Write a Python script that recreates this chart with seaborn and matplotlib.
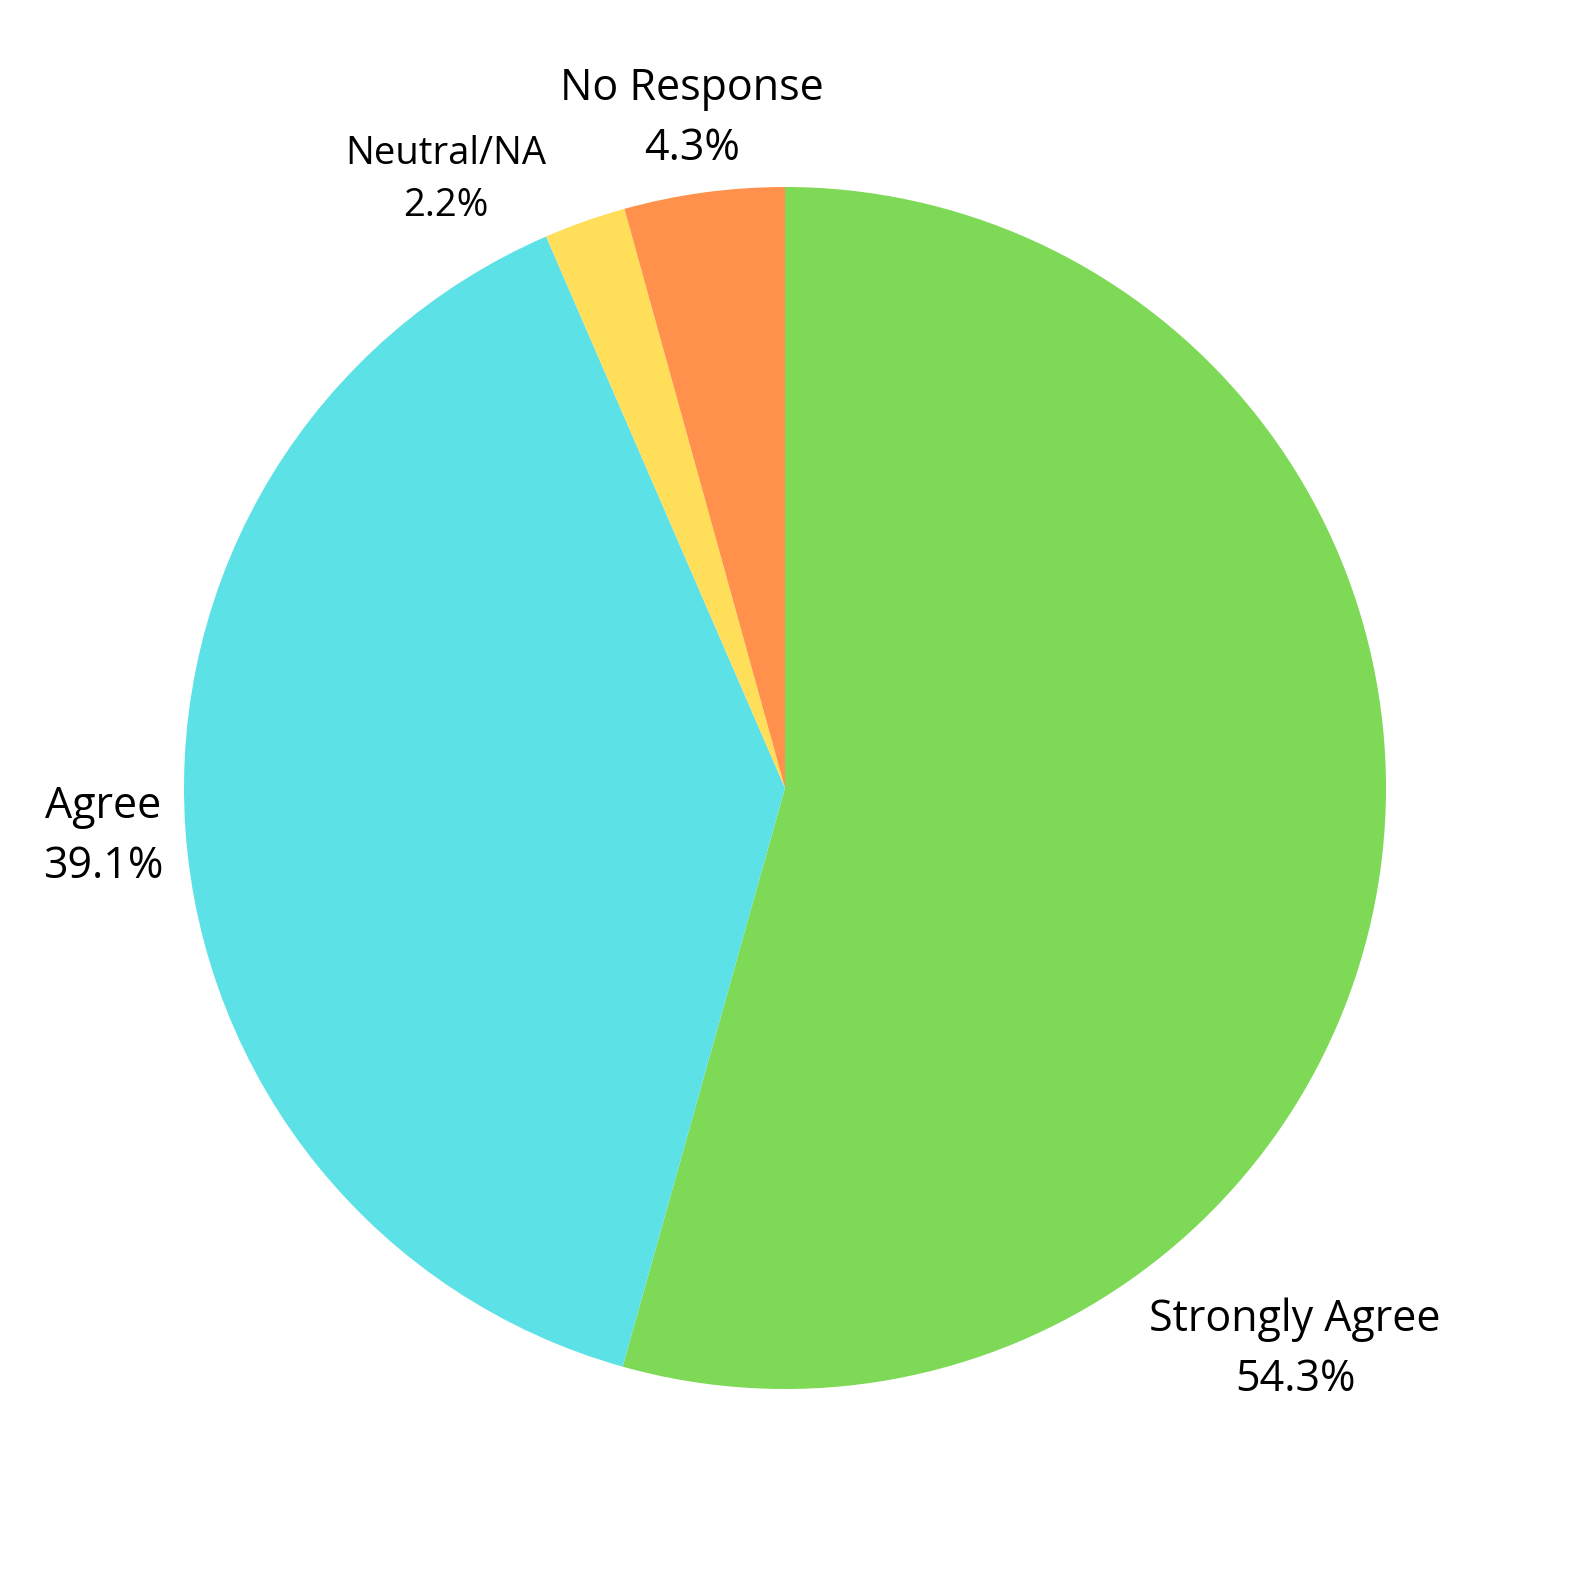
import matplotlib
matplotlib.use("Agg")
import matplotlib.pyplot as plt
import seaborn as sns

categories = ["Strongly Agree", "Agree", "Neutral/NA", "No Response"]
values = [54.3, 39.1, 2.2, 4.3]
colors = ["#7ED957", "#5CE1E6", "#FFDE59", "#FF914D"]

sns.set_theme(style="white")
plt.rcParams["font.family"] = ["Open Sans", "DejaVu Sans"]

W = 1580
fig = plt.figure(figsize=(15.8, 15.8), dpi=100)
cx, cy, r = 785, 788, 601
ax = fig.add_axes([(cx - r) / W, (W - cy - r) / W, 2 * r / W, 2 * r / W])
ax.pie(values, colors=colors, startangle=90, counterclock=False, radius=1,
       wedgeprops=dict(linewidth=0))
ax.set_xlim(-1, 1)
ax.set_ylim(-1, 1)
ax.set_aspect("equal")
ax.axis("off")

# label positions in pixel coordinates (center of two-line block)
label_pos = {
    "Strongly Agree": (1295, 1350, 31),
    "Agree": (103, 837, 31),
    "Neutral/NA": (446, 180, 27.5),
    "No Response": (692, 119, 31),
}
for cat, val in zip(categories, values):
    x, y, fs = label_pos[cat]
    fig.text(x / W, 1 - y / W, f"{cat}\n{val}%", ha="center", va="center",
             fontsize=fs, color="black", linespacing=1.45)

fig.savefig("out.png", dpi=100, facecolor="white")
